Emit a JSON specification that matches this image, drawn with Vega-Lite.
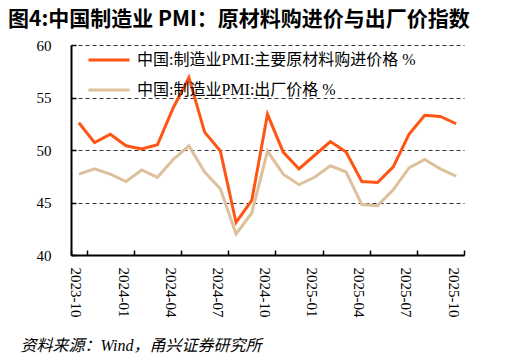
{
  "$schema": "https://vega.github.io/schema/vega-lite/v6.json",
  "width": 393,
  "height": 210,
  "autosize": {"type": "none"},
  "padding": {"left": 71, "top": 45, "right": 45, "bottom": 105},
  "config": {
    "view": {"stroke": null},
    "font": "Liberation Serif, Noto Sans CJK SC",
    "background": "white"
  },
  "title": {
    "text": "图4:中国制造业 PMI：原材料购进价与出厂价指数",
    "anchor": "start",
    "frame": "group",
    "dx": -63,
    "offset": 8,
    "font": "Noto Sans CJK SC",
    "fontSize": 21,
    "fontWeight": "bold",
    "color": "#000000"
  },
  "data": {
    "values": [
      {"month": "2023-10", "series": "中国:制造业PMI:主要原材料购进价格 %", "value": 52.6},
      {"month": "2023-11", "series": "中国:制造业PMI:主要原材料购进价格 %", "value": 50.7},
      {"month": "2023-12", "series": "中国:制造业PMI:主要原材料购进价格 %", "value": 51.5},
      {"month": "2024-01", "series": "中国:制造业PMI:主要原材料购进价格 %", "value": 50.4},
      {"month": "2024-02", "series": "中国:制造业PMI:主要原材料购进价格 %", "value": 50.1},
      {"month": "2024-03", "series": "中国:制造业PMI:主要原材料购进价格 %", "value": 50.5},
      {"month": "2024-04", "series": "中国:制造业PMI:主要原材料购进价格 %", "value": 54.0},
      {"month": "2024-05", "series": "中国:制造业PMI:主要原材料购进价格 %", "value": 56.9},
      {"month": "2024-06", "series": "中国:制造业PMI:主要原材料购进价格 %", "value": 51.7},
      {"month": "2024-07", "series": "中国:制造业PMI:主要原材料购进价格 %", "value": 49.9},
      {"month": "2024-08", "series": "中国:制造业PMI:主要原材料购进价格 %", "value": 43.1},
      {"month": "2024-09", "series": "中国:制造业PMI:主要原材料购进价格 %", "value": 45.2},
      {"month": "2024-10", "series": "中国:制造业PMI:主要原材料购进价格 %", "value": 53.4},
      {"month": "2024-11", "series": "中国:制造业PMI:主要原材料购进价格 %", "value": 49.8},
      {"month": "2024-12", "series": "中国:制造业PMI:主要原材料购进价格 %", "value": 48.2},
      {"month": "2025-01", "series": "中国:制造业PMI:主要原材料购进价格 %", "value": 49.5},
      {"month": "2025-02", "series": "中国:制造业PMI:主要原材料购进价格 %", "value": 50.8},
      {"month": "2025-03", "series": "中国:制造业PMI:主要原材料购进价格 %", "value": 49.8},
      {"month": "2025-04", "series": "中国:制造业PMI:主要原材料购进价格 %", "value": 47.0},
      {"month": "2025-05", "series": "中国:制造业PMI:主要原材料购进价格 %", "value": 46.9},
      {"month": "2025-06", "series": "中国:制造业PMI:主要原材料购进价格 %", "value": 48.4},
      {"month": "2025-07", "series": "中国:制造业PMI:主要原材料购进价格 %", "value": 51.5},
      {"month": "2025-08", "series": "中国:制造业PMI:主要原材料购进价格 %", "value": 53.3},
      {"month": "2025-09", "series": "中国:制造业PMI:主要原材料购进价格 %", "value": 53.2},
      {"month": "2025-10", "series": "中国:制造业PMI:主要原材料购进价格 %", "value": 52.5},
      {"month": "2023-10", "series": "中国:制造业PMI:出厂价格 %", "value": 47.7},
      {"month": "2023-11", "series": "中国:制造业PMI:出厂价格 %", "value": 48.2},
      {"month": "2023-12", "series": "中国:制造业PMI:出厂价格 %", "value": 47.7},
      {"month": "2024-01", "series": "中国:制造业PMI:出厂价格 %", "value": 47.0},
      {"month": "2024-02", "series": "中国:制造业PMI:出厂价格 %", "value": 48.1},
      {"month": "2024-03", "series": "中国:制造业PMI:出厂价格 %", "value": 47.4},
      {"month": "2024-04", "series": "中国:制造业PMI:出厂价格 %", "value": 49.1},
      {"month": "2024-05", "series": "中国:制造业PMI:出厂价格 %", "value": 50.4},
      {"month": "2024-06", "series": "中国:制造业PMI:出厂价格 %", "value": 47.9},
      {"month": "2024-07", "series": "中国:制造业PMI:出厂价格 %", "value": 46.3},
      {"month": "2024-08", "series": "中国:制造业PMI:出厂价格 %", "value": 42.0},
      {"month": "2024-09", "series": "中国:制造业PMI:出厂价格 %", "value": 44.0},
      {"month": "2024-10", "series": "中国:制造业PMI:出厂价格 %", "value": 49.9},
      {"month": "2024-11", "series": "中国:制造业PMI:出厂价格 %", "value": 47.7},
      {"month": "2024-12", "series": "中国:制造业PMI:出厂价格 %", "value": 46.7},
      {"month": "2025-01", "series": "中国:制造业PMI:出厂价格 %", "value": 47.4},
      {"month": "2025-02", "series": "中国:制造业PMI:出厂价格 %", "value": 48.5},
      {"month": "2025-03", "series": "中国:制造业PMI:出厂价格 %", "value": 47.9},
      {"month": "2025-04", "series": "中国:制造业PMI:出厂价格 %", "value": 44.8},
      {"month": "2025-05", "series": "中国:制造业PMI:出厂价格 %", "value": 44.7},
      {"month": "2025-06", "series": "中国:制造业PMI:出厂价格 %", "value": 46.2},
      {"month": "2025-07", "series": "中国:制造业PMI:出厂价格 %", "value": 48.3},
      {"month": "2025-08", "series": "中国:制造业PMI:出厂价格 %", "value": 49.1},
      {"month": "2025-09", "series": "中国:制造业PMI:出厂价格 %", "value": 48.2},
      {"month": "2025-10", "series": "中国:制造业PMI:出厂价格 %", "value": 47.5}
    ]
  },
  "mark": {"type": "line", "strokeWidth": 3},
  "encoding": {
    "x": {
      "field": "month",
      "type": "ordinal",
      "scale": {"type": "band", "paddingInner": 0, "paddingOuter": 0},
      "axis": {
        "values": ["2023-10", "2024-01", "2024-04", "2024-07", "2024-10", "2025-01", "2025-04", "2025-07", "2025-10"],
        "tickBand": "extent",
        "labelAngle": 90,
        "labelFontSize": 15,
        "labelColor": "#000000",
        "labelPadding": 17,
        "labelOffset": -3,
        "tickSize": -5,
        "tickColor": "#000000",
        "tickWidth": 1.5,
        "domainColor": "#000000",
        "domainWidth": 2,
        "grid": false,
        "title": "资料来源：Wind，甬兴证券研究所",
        "titleFont": "Liberation Serif, Noto Sans CJK SC",
        "titleFontSize": 16,
        "titleFontWeight": "normal",
        "titleFontStyle": "italic",
        "titleColor": "#000000",
        "titleAnchor": "start",
        "titleAlign": "left",
        "titleBaseline": "alphabetic",
        "titleX": -51,
        "titleY": 95
      }
    },
    "y": {
      "field": "value",
      "type": "quantitative",
      "scale": {"domain": [40, 60], "nice": false, "zero": false},
      "axis": {
        "values": [40, 45, 50, 55, 60],
        "title": null,
        "labelFontSize": 15,
        "labelColor": "#000000",
        "labelPadding": 25,
        "tickSize": -5,
        "tickColor": "#000000",
        "tickWidth": 1.5,
        "domainColor": "#000000",
        "domainWidth": 2,
        "grid": true,
        "gridColor": "#333333",
        "gridDash": [4, 3],
        "gridWidth": 1
      }
    },
    "color": {
      "field": "series",
      "type": "nominal",
      "sort": ["中国:制造业PMI:主要原材料购进价格 %", "中国:制造业PMI:出厂价格 %"],
      "scale": {
        "domain": ["中国:制造业PMI:主要原材料购进价格 %", "中国:制造业PMI:出厂价格 %"],
        "range": ["#FF5514", "#DCC19C"]
      },
      "legend": {
        "orient": "none",
        "legendX": 16,
        "legendY": -7,
        "title": null,
        "padding": 0,
        "symbolType": "stroke",
        "symbolSize": 1681,
        "symbolStrokeWidth": 3,
        "labelFontSize": 16,
        "labelColor": "#000000",
        "labelOffset": 6,
        "rowPadding": -7,
        "labelLimit": 400
      }
    }
  }
}
